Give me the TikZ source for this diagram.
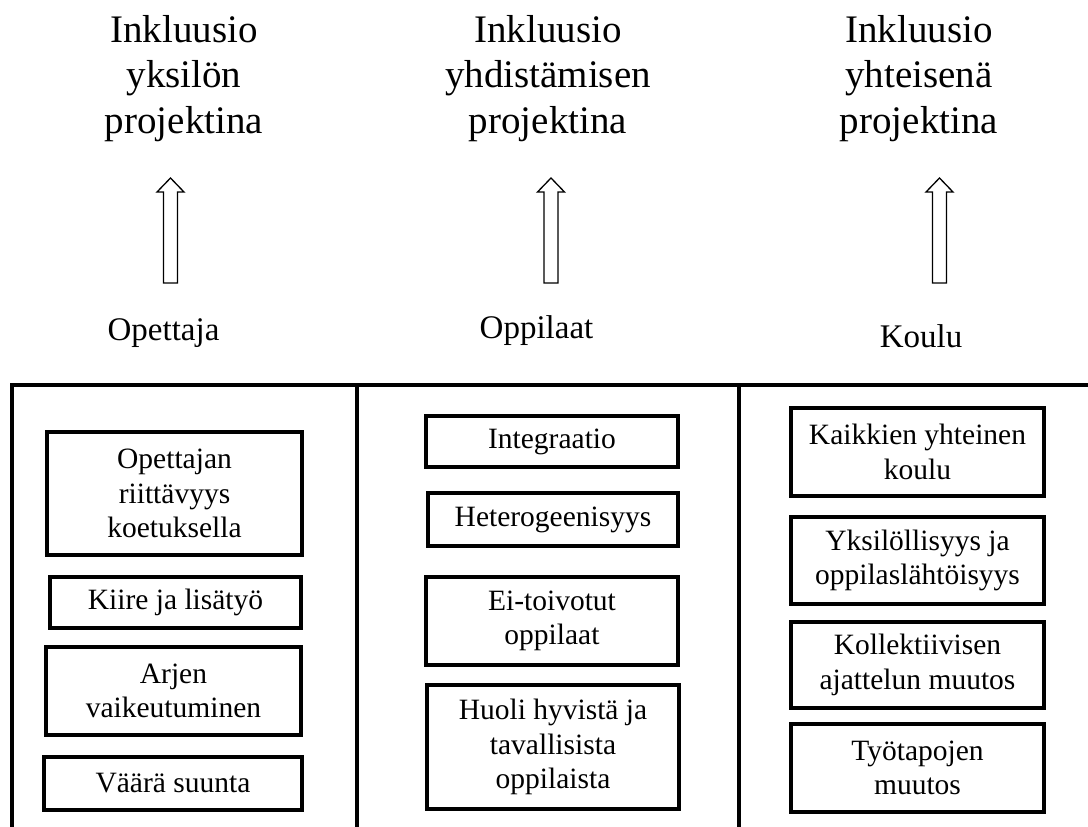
\documentclass[tikz,border=0pt]{standalone}
\usepackage{fontspec}
\setmainfont{Liberation Serif}
\begin{document}
\begin{tikzpicture}[x=1pt,y=-1pt,
  title/.style={anchor=north, align=center, inner sep=0pt, font=\fontsize{39}{45.5}\selectfont},
  lab/.style={anchor=base, inner sep=0pt, font=\fontsize{33}{38}\selectfont},
  bx/.style={draw, line width=3.5pt, align=center, inner sep=0pt, font=\fontsize{29.5}{34.5}\selectfont},
  framel/.style={line width=4pt},
  uparrow/.pic={\draw[line width=1.3pt, line join=miter, fill=white] (-7,0) -- (-7,-91) -- (-13.5,-91) -- (0,-105) -- (13.5,-91) -- (7,-91) -- (7,0) -- cycle;}]
\useasboundingbox (0,0) rectangle (1088,827);

% titles
\node[title] (t1) at (184,15) {Inkluusio\\yksilön\\projektina};
\node[title] (t2) at (548,15) {Inkluusio\\yhdistämisen\\projektina};
\node[title] (t3) at (919,15) {Inkluusio\\yhteisenä\\projektina};

% arrows
\coordinate (a1) at (170.5,283);
\coordinate (a2) at (551,283);
\coordinate (a3) at (939.5,283);
\pic at (a1) {uparrow};
\pic at (a2) {uparrow};
\pic at (a3) {uparrow};

% labels
\node[lab] (l1) at (163.5,340) {Opettaja};
\node[lab] (l2) at (536.5,338) {Oppilaat};
\node[lab] (l3) at (921,347) {Koulu};

% frame
\coordinate (ftl) at (12,385);
\coordinate (ftr) at (1088,385);
\coordinate (fbl) at (12,827);
\coordinate (d1t) at (357,385);
\coordinate (d1b) at (357,827);
\coordinate (d2t) at (739,385);
\coordinate (d2b) at (739,827);
\draw[framel] (fbl) -- (ftl) -- (ftr);
\draw[framel] (d1t) -- (d1b);
\draw[framel] (d2t) -- (d2b);

% left column
\node[bx, minimum width=255pt, minimum height=123pt] (b1) at (174.5,493.5) {Opettajan\\riittävyys\\koetuksella};
\node[bx, minimum width=251pt, minimum height=51pt] (b2) at (175.5,602.5) {Kiire ja lisätyö};
\node[bx, minimum width=255pt, minimum height=88pt] (b3) at (173.5,691) {Arjen\\vaikeutuminen};
\node[bx, minimum width=258pt, minimum height=53pt] (b4) at (173,783.5) {Väärä suunta};

% middle column
\node[bx, minimum width=252pt, minimum height=51pt] (m1) at (552,441.5) {Integraatio};
\node[bx, minimum width=250pt, minimum height=53pt] (m2) at (553,519.5) {Heterogeenisyys};
\node[bx, minimum width=252pt, minimum height=88pt] (m3) at (552,621) {Ei-toivotut\\oppilaat};
\node[bx, minimum width=252pt, minimum height=124pt] (m4) at (553,747) {Huoli hyvistä ja\\tavallisista\\oppilaista};

% right column
\node[bx, minimum width=253pt, minimum height=88pt] (r1) at (917.5,452) {Kaikkien yhteinen\\koulu};
\node[bx, minimum width=253pt, minimum height=87pt] (r2) at (917.5,560.5) {Yksilöllisyys ja\\oppilaslähtöisyys};
\node[bx, minimum width=253pt, minimum height=86pt] (r3) at (917.5,665) {Kollektiivisen\\ajattelun muutos};
\node[bx, minimum width=253pt, minimum height=88pt] (r4) at (917.5,768) {Työtapojen\\muutos};
\end{tikzpicture}
\end{document}
